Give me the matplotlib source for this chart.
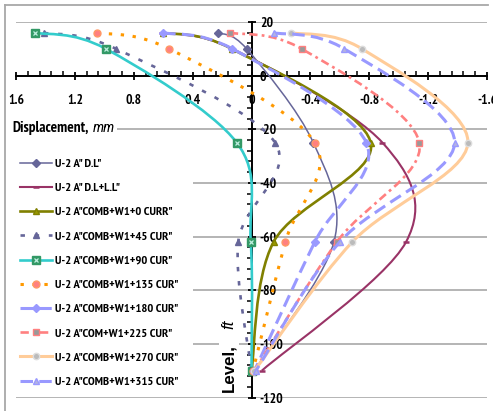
import numpy as np
import matplotlib
matplotlib.use("Agg")
import matplotlib.pyplot as plt
from matplotlib import font_manager as fm
from matplotlib.lines import Line2D
from matplotlib.patches import Rectangle, PathPatch
from matplotlib.path import Path
from matplotlib.ticker import FixedLocator, FixedFormatter, MultipleLocator

plt.rcParams['lines.scale_dashes'] = False

# ---------------- data ----------------
levels = [16, 10, -25, -62, -110]          # Level, ft

names = ['U-2 A" D.L"', 'U-2 A" D.L+L.L"', 'U-2 A"COMB+W1+0 CURR"',
         'U-2 A"COMB+W1+45 CUR"', 'U-2 A"COMB+W1+90 CUR"',
         'U-2 A"COMB+W1+135 CUR"', 'U-2 A"COMB+W1+180 CUR"',
         'U-2 A"COM+W1+225 CUR"', 'U-2 A"COMB+W1+270 CUR"',
         'U-2 A"COMB+W1+315 CUR"']

dl      = [0.23, 0.033, -0.42, -0.56, -0.02]
dl_ll   = [0.61, 0.13, -0.89, -1.05, -0.07]
comb0   = [0.60, 0.135, -0.81, -0.15, 0.00]
comb45  = [1.41, 0.92, -0.16, 0.09, 0.00]
comb90  = [1.47, 0.99, 0.10, 0.005, 0.00]
comb135 = [1.05, 0.56, -0.43, -0.23, -0.01]
comb180 = [0.60, 0.13, -0.78, -0.43, -0.02]
com225  = [0.147, -0.34, -1.14, -0.58, -0.02]
comb270 = [-0.27, -0.75, -1.47, -0.685, -0.02]
comb315 = [-0.15, -0.63, -1.38, -0.60, -0.03]

x_ticks = [1.6, 1.2, 0.8, 0.4, 0.0, -0.4, -0.8, -1.2, -1.6]
x_tick_labels = ['1.6', '1.2', '0.8', '0.4', '0', '-0.4', '-0.8', '-1.2', '-1.6']
y_ticks = [20, 0, -20, -40, -60, -80, -100, -120]
y_tick_labels = ['20', '0', '-20', '-40', '-60', '-80', '-100', '-120']

series = [dl, dl_ll, comb0, comb45, comb90, comb135, comb180, com225, comb270, comb315]

# ---------------- styles ----------------
styles = [
    dict(color='#666699', lw=1.1, ls='-', marker='D', ms=4.0, mfc='#666699', mec='#666699'),
    dict(color='#993366', lw=1.5, ls='-', marker='_', ms=4, mfc='#993366', mec='#993366'),
    dict(color='#808000', lw=1.9, ls='-', marker='^', ms=5.0, mfc='#999900', mec='#808000'),
    dict(color='#666699', lw=1.9, ls=(0, (3.2, 7.0)), marker='^', ms=5.0, mfc='#666699', mec='#666699'),
    dict(color='#33CCCC', lw=1.9, ls='-', marker='s', ms=5.2, mfc='#339966', mec='#339966'),
    dict(color='#FF9900', lw=2.2, ls=(0, (2.4, 6.2)), marker='o', ms=5.0, mfc='#FF8080', mec='#FF9966'),
    dict(color='#9999FF', lw=2.2, ls=(0, (9, 4.5)), marker='D', ms=4.0, mfc='#9999FF', mec='#9999FF'),
    dict(color='#FF8080', lw=1.9, ls=(0, (6, 3, 2, 3)), marker='s', ms=5.0, mfc='#999999', mec='#FF8080'),
    dict(color='#FFCC99', lw=2.2, ls='-', marker='o', ms=4.6, mfc='#BBBBBB', mec='#DDDDDD'),
    dict(color='#9999FF', lw=2.2, ls=(0, (9, 4.5)), marker='^', ms=5.0, mfc='#B4B4E0', mec='#9999FF'),
]


# ---------------- fonts ----------------
def _wnum(w):
    if isinstance(w, (int, float)):
        return w
    return fm.weight_dict.get(str(w), 400)


def _is_cond(f):
    s = (str(f.stretch) + ' ' + f.name + ' ' + f.fname).lower()
    if any(b in s for b in ('semi', 'extra', 'ultra')):
        return False
    return 'condensed' in s


PREDS = [
    lambda f: 'narrow' in f.name.lower() and 'sans' in f.name.lower(),
    lambda f: f.name.lower() in ('arial narrow',),
    lambda f: f.name == 'Roboto Condensed',
    lambda f: f.name in ('Noto Sans', 'Noto Sans Condensed') and _is_cond(f),
    lambda f: f.name in ('Liberation Sans', 'Arimo'),
]


def find_font(bold=True, italic=False, preds=PREDS):
    for pred in preds:
        best, bscore = None, None
        for f in fm.fontManager.ttflist:
            try:
                if not pred(f):
                    continue
            except Exception:
                continue
            it = f.style in ('italic', 'oblique')
            if it != italic:
                continue
            score = abs(_wnum(f.weight) - (700 if bold else 400))
            if best is None or score < bscore:
                best, bscore = f, score
        if best is not None and bscore <= 150:
            return best.fname
    return None


def make_prop(path, fallback_family, bold, italic):
    if path:
        return fm.FontProperties(fname=path)
    return fm.FontProperties(family=fallback_family, weight='bold' if bold else 'normal',
                             style='italic' if italic else 'normal')


nb_path = find_font(True, False)
ni_path = find_font(False, True)
PROP_NB = make_prop(nb_path, 'Liberation Sans', True, False)
PROP_NI = make_prop(ni_path, 'Liberation Sans', False, True)
PROP_RB = make_prop(find_font(True, False, [PREDS[-1]]), 'Liberation Sans', True, False)
PROP_RI = make_prop(find_font(False, True, [PREDS[-1]]), 'Liberation Sans', False, True)


def smooth_path(xs, ys):
    """Excel-like smoothed line: cubic Bezier through points (Catmull-Rom control points)."""
    P = np.column_stack([xs, ys]).astype(float)
    E = np.vstack([P[0], P, P[-1]])
    verts = [P[0]]
    codes = [Path.MOVETO]
    for i in range(len(P) - 1):
        p0, p1, p2, p3 = E[i], E[i + 1], E[i + 2], E[i + 3]
        c1 = p1 + (p2 - p0) / 6.0
        c2 = p2 - (p3 - p1) / 6.0
        verts += [c1, c2, p2]
        codes += [Path.CURVE4] * 3
    return Path(verts, codes)


fig = plt.figure(figsize=(4.93, 4.11), dpi=100)
W, H = 493.0, 411.0
renderer = fig.canvas.get_renderer()


def fit(prop, text, target_px, maxsize=None):
    p = prop.copy()
    p.set_size(10)
    w, h, d = renderer.get_text_width_height_descent(text, p, ismath=False)
    s = 10.0 * target_px / w
    if maxsize:
        s = min(s, maxsize)
    p.set_size(s)
    return p


prop_leg = fit(PROP_NB, 'U-2 A"COMB+W1+135 CUR"', 123, 9.5)
prop_tick = fit(PROP_NB, '-0.4', 20, 10.5)
prop_disp = fit(PROP_NB, 'Displacement,', 78, 11)
prop_mm = PROP_NI.copy()
prop_mm.set_size(prop_disp.get_size())
prop_lev = fit(PROP_RB, 'Level,', 48, 12.5)
prop_ft = PROP_RI.copy()
prop_ft.set_size(prop_lev.get_size())

ax = fig.add_axes([16 / W, 1 - 397.5 / H, (487 - 16) / W, (397.5 - 22) / H])
ax.set_xlim(1.6, -1.6)
ax.set_ylim(-120, 20)

ax.set_axisbelow(True)
ax.yaxis.grid(True, which='major', color='#a0a0a0', lw=1.1)
ax.xaxis.grid(False)

ax.spines['top'].set_visible(False)
ax.spines['left'].set_visible(False)
ax.spines['bottom'].set_position(('data', 0))
ax.spines['right'].set_position(('data', 0))
for s in ('bottom', 'right'):
    ax.spines[s].set_linewidth(1.4)
    ax.spines[s].set_color('black')
    ax.spines[s].set_zorder(3)

ax.xaxis.set_major_locator(FixedLocator(x_ticks))
ax.xaxis.set_major_formatter(FixedFormatter(x_tick_labels))
ax.xaxis.set_minor_locator(MultipleLocator(0.08))
ax.yaxis.set_ticks_position('right')
ax.yaxis.set_major_locator(FixedLocator(y_ticks))
ax.yaxis.set_major_formatter(FixedFormatter(y_tick_labels))
ax.yaxis.set_minor_locator(MultipleLocator(4))

_, th, _ = renderer.get_text_width_height_descent('lp', prop_tick, ismath=False)
xpad = max(1.0, (25.0 - th / 2.0) / (100 / 72.0) - 3.0)
ax.tick_params(axis='x', which='major', direction='inout', length=6, width=1.3, pad=xpad)
ax.tick_params(axis='x', which='minor', direction='in', length=3.5, width=1.1)
ax.tick_params(axis='y', which='major', direction='inout', length=6, width=1.3, pad=3,
               labelright=True, labelleft=False)
ax.tick_params(axis='y', which='minor', direction='in', length=3.5, width=1.1)
for lab in ax.get_xticklabels() + ax.get_yticklabels():
    lab.set_fontproperties(prop_tick)
for lab in ax.get_yticklabels():
    lab.set_horizontalalignment('left')

# white box behind the legend (covers gridlines)
ax.add_patch(Rectangle((10 / W, 1 - 394 / H), (193 - 10) / W, (394 - 142) / H,
                       transform=fig.transFigure, facecolor='white', edgecolor='none',
                       zorder=1, clip_on=False))

handles = []
for k, (xs, st) in enumerate(zip(series, styles)):
    z = 4 + k
    mew = 1.0 if st['marker'] != '_' else 1.8
    patch = PathPatch(smooth_path(xs, levels), fill=False, edgecolor=st['color'],
                      lw=st['lw'], linestyle=st['ls'], capstyle='butt', joinstyle='round',
                      zorder=z)
    ax.add_patch(patch)
    ax.plot(xs, levels, ls='none', marker=st['marker'], ms=st['ms'], mfc=st['mfc'],
            mec=st['mec'], mew=mew, zorder=z + 0.5, clip_on=False)
    h = Line2D([], [], color=st['color'], lw=st['lw'], ls=st['ls'], marker=st['marker'],
               ms=st['ms'], mfc=st['mfc'], mec=st['mec'], mew=mew, dash_capstyle='butt')
    if k == 4:
        ax.plot(xs, levels, ls='none', marker='x', ms=2.8, mec='#BFEFE0', mew=0.9,
                zorder=z + 0.6, clip_on=False)
        hx = Line2D([], [], ls='none', marker='x', ms=2.8, mec='#BFEFE0', mew=0.9)
        h = (h, hx)
    handles.append(h)

fs_px = prop_leg.get_size() * 100 / 72.0
_, lh, _ = renderer.get_text_width_height_descent('lp', prop_leg, ismath=False)
pitch = 23.5
labelspacing = max(0.1, (pitch - max(lh, 0.7 * fs_px)) / fs_px)
top_px = 163.3 - max(lh, 0.7 * fs_px) / 2.0
leg = ax.legend(handles, names, loc='upper left', bbox_to_anchor=(20 / W, 1 - top_px / H),
                bbox_transform=fig.transFigure, frameon=False, borderpad=0,
                borderaxespad=0, handlelength=32 / fs_px, handletextpad=3 / fs_px,
                labelspacing=labelspacing, prop=prop_leg, numpoints=1)
leg.set_zorder(20)

# axis titles
t1 = fig.text(12 / W, 1 - 128 / H, 'Displacement,', ha='left', va='center',
              fontproperties=prop_disp,
              bbox=dict(facecolor='white', edgecolor='none', pad=1.5), zorder=10)
ax.annotate('mm', xy=(1, 0.5), xycoords=t1, xytext=(3, 0), textcoords='offset points',
            ha='left', va='center', fontproperties=prop_mm,
            bbox=dict(facecolor='white', edgecolor='none', pad=1.5), annotation_clip=False,
            zorder=30)

t2 = fig.text(229 / W, 1 - 392 / H, 'Level,', rotation=90, ha='center', va='bottom',
              fontproperties=prop_lev,
              bbox=dict(facecolor='white', edgecolor='none', pad=1.5), zorder=10)
ax.annotate('ft', xy=(0.5, 1), xycoords=t2, xytext=(0, 11), textcoords='offset points',
            rotation=90, ha='center', va='bottom', fontproperties=prop_ft,
            annotation_clip=False, zorder=30)

# partial outer frame
fig.add_artist(Line2D([5 / W, 488 / W], [1 - 5 / H, 1 - 5 / H], transform=fig.transFigure,
                      color='#a8a8a8', lw=1.3))
fig.add_artist(Line2D([5 / W, 5 / W], [1 - 5 / H, 0], transform=fig.transFigure,
                      color='#a8a8a8', lw=1.3))

fig.savefig('out.png', dpi=100, facecolor='white')
